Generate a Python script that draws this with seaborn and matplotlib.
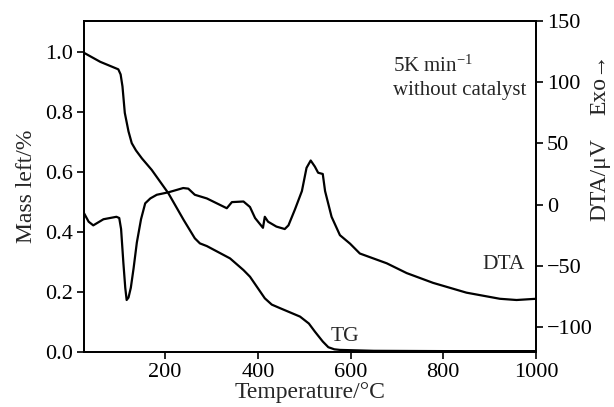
import numpy as np
import pandas as pd
import matplotlib
matplotlib.use("Agg")
import matplotlib.pyplot as plt
import seaborn as sns

# TG curve (mass left, fraction)
tg_temp = [25, 60, 99, 104, 108, 113, 121, 128, 137, 150, 171, 207, 240, 264,
           275, 290, 340, 369, 383, 415, 430, 448, 491, 510, 523, 540, 552, 565,
           577, 650, 800, 1000]
tg_mass = [0.997, 0.967, 0.942, 0.925, 0.885, 0.797, 0.735, 0.696, 0.672, 0.645,
           0.607, 0.529, 0.44, 0.379, 0.362, 0.353, 0.312, 0.273, 0.251, 0.179,
           0.158, 0.146, 0.118, 0.095, 0.068, 0.035, 0.016, 0.009,
           0.007, 0.004, 0.003, 0.003]

# DTA curve (uV)
dta_temp = [25, 35, 45, 67, 95, 101, 105, 110, 114, 117, 121, 126, 132, 139, 148,
            157, 168, 182, 207, 239, 250, 264, 290, 333, 344, 369, 383, 394, 411,
            415, 422, 440, 458, 466, 480, 495, 505, 514, 523, 530, 540, 545, 559,
            577, 599, 620, 649, 678, 721, 778, 850, 922, 958, 1000]
dta_val = [-7, -14, -17, -12, -10, -11, -20, -48, -68, -78, -76, -68, -52, -31,
           -12, 1, 5, 8, 10, 13.5, 13, 8, 5, -3, 2, 2.5, -2, -11, -19,
           -10, -14, -18, -20, -17, -4, 11, 30, 36, 31, 26, 25, 11, -10,
           -25, -32, -40, -44, -48, -56, -64, -72, -77, -78, -77]

left_ticks = [0.0, 0.2, 0.4, 0.6, 0.8, 1.0]
right_ticks = [-100, -50, 0, 50, 100, 150]
x_ticks = [200, 400, 600, 800, 1000]

tg_df = pd.DataFrame({"T": tg_temp, "mass": tg_mass})
dta_df = pd.DataFrame({"T": dta_temp, "dta": dta_val})

sns.set_style("ticks")
plt.rcParams['font.family'] = ['Liberation Serif', 'DejaVu Serif']
plt.rcParams['mathtext.fontset'] = 'custom'
plt.rcParams['mathtext.rm'] = 'Liberation Serif'
plt.rcParams['mathtext.it'] = 'Liberation Serif:italic'

fig = plt.figure(figsize=(6.14, 4.07), dpi=100)
ax = fig.add_axes([0.1368, 0.1351, 0.7362, 0.8133])
ax2 = ax.twinx()

sns.lineplot(data=tg_df, x="T", y="mass", ax=ax, color="black", linewidth=1.6,
             sort=False)
sns.lineplot(data=dta_df, x="T", y="dta", ax=ax2, color="black", linewidth=1.6,
             sort=False)

ax.set_xlim(25, 1000)
ax.set_ylim(0, 1.103)
ax2.set_ylim(-120.5, 150)

ax.set_xticks(x_ticks)
ax.set_yticks(left_ticks)
ax.set_yticklabels([f"{v:.1f}" for v in left_ticks])
ax2.set_yticks(right_ticks)

for a in (ax, ax2):
    a.tick_params(direction="out", length=5, width=1.2, labelsize=16,
                  colors="black", pad=3)
    for s in a.spines.values():
        s.set_linewidth(1.3)
        s.set_color("black")
        s.set_visible(True)
    a.grid(False)

ax.set_xlabel("Temperature/°C", fontsize=17, labelpad=0)
ax.set_ylabel("Mass left/%", fontsize=17, labelpad=6)
ax2.set_ylabel("")

fig.text(0.977, 0.558, "DTA/μV", rotation=90, ha="center", va="center", fontsize=17)
fig.text(0.977, 0.794, "Exo→", rotation=90, ha="center", va="center", fontsize=17)

ax.text(0.684, 0.846, "5K min$^{-1}$", transform=ax.transAxes, fontsize=15,
        ha="left", va="baseline")
ax.text(0.684, 0.776, "without catalyst", transform=ax.transAxes, fontsize=15,
        ha="left", va="baseline")
ax2.text(884, -49, "DTA", fontsize=15.5, ha="left", va="center")
ax.text(556, 0.053, "TG", fontsize=15.5, ha="left", va="center")

fig.savefig("out.png", dpi=100)
